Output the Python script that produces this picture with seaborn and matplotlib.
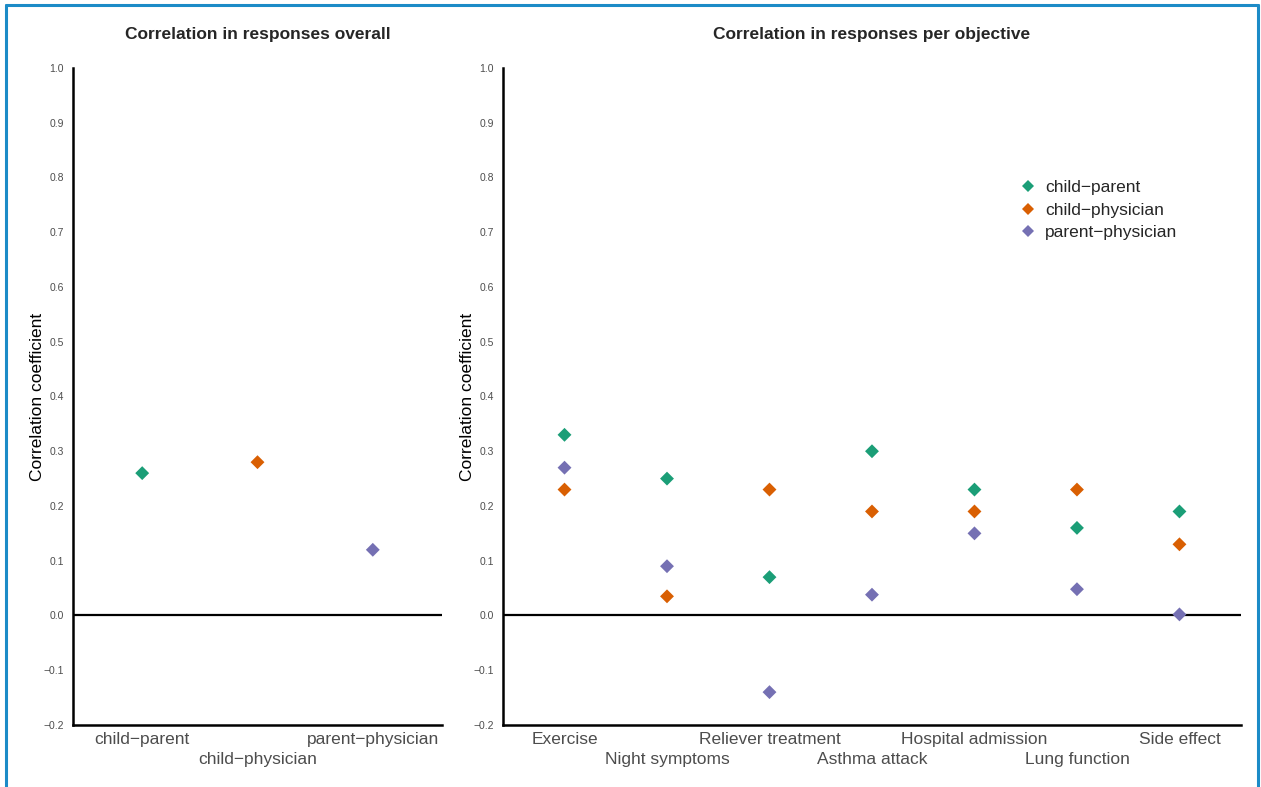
import matplotlib.pyplot as plt
import numpy as np
import pandas as pd
import seaborn as sns
from matplotlib.lines import Line2D

# pairs of respondents
pairs = ["child\u2212parent", "child\u2212physician", "parent\u2212physician"]
overall = [0.26, 0.28, 0.12]

objectives = ["Exercise", "Night symptoms", "Reliever treatment", "Asthma attack",
              "Hospital admission", "Lung function", "Side effect"]
child_parent = [0.33, 0.25, 0.07, 0.30, 0.23, 0.16, 0.19]
child_physician = [0.23, 0.035, 0.23, 0.19, 0.19, 0.23, 0.13]
parent_physician = [0.27, 0.09, -0.14, 0.038, 0.15, 0.048, 0.002]

colors = ["#1B9E77", "#D95F02", "#7570B3"]
y_ticks = np.round(np.arange(-0.2, 1.01, 0.1), 1)


def style_axis(ax, labels, title):
    ax.set_ylim(-0.2, 1.0)
    ax.set_xlim(-0.6, len(labels) - 0.4)
    ax.axhline(0, color="black", lw=1.6, zorder=1)
    ax.set_yticks(y_ticks)
    ax.set_yticklabels([f"{v:.1f}".replace("-", "\u2212") for v in y_ticks],
                       fontsize=7.5, color="#4D4D4D")
    # staggered labels: even ones on the major ticks, odd ones on minor ticks further down
    pos = list(range(len(labels)))
    ax.set_xticks(pos)
    ax.set_xticklabels([l if i % 2 == 0 else "" for i, l in enumerate(labels)],
                       fontsize=12.5, color="#4D4D4D")
    ax.xaxis.remove_overlapping_locs = False
    ax.set_xticks(pos[1::2], minor=True)
    ax.set_xticklabels(labels[1::2], minor=True, fontsize=12.5, color="#4D4D4D")
    ax.tick_params(axis="both", which="major", length=3, width=1.2, color="#333333")
    ax.tick_params(axis="x", which="major", pad=2)
    ax.tick_params(axis="x", which="minor", length=0, pad=19.5)
    for side in ["top", "right"]:
        ax.spines[side].set_visible(False)
    for side in ["left", "bottom"]:
        ax.spines[side].set_linewidth(1.8)
        ax.spines[side].set_color("black")
    ax.set_xlabel("")
    ax.set_ylabel("Correlation coefficient", fontsize=12.5, color="black", labelpad=-1)
    ax.set_title(title, fontsize=12.5, fontweight="bold", pad=21)


sns.set_style("white")
plt.rcParams["font.family"] = ["Liberation Sans", "DejaVu Sans"]

fig = plt.figure(figsize=(12.61, 7.87), dpi=100)
ax1 = fig.add_axes([0.0579, 0.0788, 0.2926, 0.8348])
ax2 = fig.add_axes([0.3989, 0.0788, 0.5852, 0.8348])

df_overall = pd.DataFrame({"pair": pairs, "r": overall})
sns.scatterplot(data=df_overall, x="pair", y="r", hue="pair", hue_order=pairs,
                palette=colors, marker="D", s=50, linewidth=0, legend=False,
                ax=ax1, zorder=3)
style_axis(ax1, pairs, "Correlation in responses overall")

df_obj = pd.DataFrame({
    "objective": objectives * 3,
    "pair": [pairs[0]] * 7 + [pairs[1]] * 7 + [pairs[2]] * 7,
    "r": child_parent + child_physician + parent_physician,
})
sns.scatterplot(data=df_obj, x="objective", y="r", hue="pair", hue_order=pairs,
                palette=colors, marker="D", s=50, linewidth=0, legend=False,
                ax=ax2, zorder=3)
style_axis(ax2, objectives, "Correlation in responses per objective")

handles = [Line2D([], [], marker="D", ls="", color=c, markersize=6.5, markeredgewidth=0)
           for c in colors]
ax2.legend(handles, pairs, loc="upper left", bbox_to_anchor=(0.683, 0.84),
           frameon=False, fontsize=12.5, handletextpad=0.2, labelspacing=0.42,
           borderaxespad=0, handlelength=1.6)

# blue frame around the figure
frame_kw = dict(color="#1C8BC7", lw=2.2, transform=fig.transFigure)
fig.add_artist(Line2D([0.005, 0.005], [0.0, 0.9935], **frame_kw))
fig.add_artist(Line2D([0.005, 0.998], [0.9935, 0.9935], **frame_kw))
fig.add_artist(Line2D([0.998, 0.998], [0.0, 0.9935], **frame_kw))

fig.savefig("out.png", dpi=100)
